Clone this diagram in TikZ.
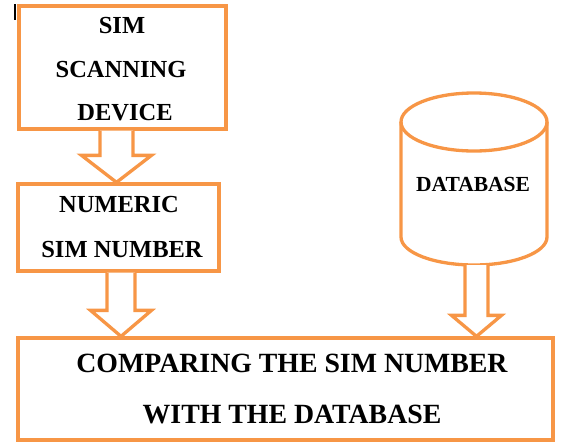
\documentclass[tikz,border=0pt]{standalone}
\usepackage{fontspec}
\setmainfont{Liberation Serif}
\definecolor{boxorange}{HTML}{F79646}
\newcommand\fatarrow[6]{%
  \draw[arrowline]
    (#1-#4,0 |- #2.south) -- ([yshift=#6pt]#1-#4,0 |- #3.north)
    -- ([yshift=#6pt]#1-#5,0 |- #3.north) -- (#1,0 |- #3.north)
    -- ([yshift=#6pt]#1+#5,0 |- #3.north) -- ([yshift=#6pt]#1+#4,0 |- #3.north)
    -- (#1+#4,0 |- #2.south);}
\tikzset{
  boxline/.style={draw=boxorange, line width=3.3pt},
  box/.style={boxline, rectangle, inner sep=0pt},
  arrowline/.style={boxline, line join=miter, fill=white},
  lbl/.style={anchor=base, inner sep=0pt, font=\fontsize{24.5}{24.5}\selectfont\bfseries},
  biglbl/.style={anchor=base, inner sep=0pt, font=\fontsize{27.8}{27.8}\selectfont\bfseries},
  dblbl/.style={anchor=base, inner sep=0pt, font=\fontsize{21.5}{21.5}\selectfont\bfseries},
}
\begin{document}
\begin{tikzpicture}[x=1pt,y=-1pt]
\useasboundingbox (0,0) rectangle (567,442);
% boxes
\node[box, minimum width=207pt, minimum height=123pt] (scan) at (122.5,67.5) {};
\node[box, minimum width=201pt, minimum height=87pt] (num) at (118.5,227.5) {};
\node[box, minimum width=535pt, minimum height=102pt] (cmp) at (285.5,389) {};
% database cylinder
\node[inner sep=0pt, minimum width=146pt, minimum height=172pt] (db) at (474,179) {};
\draw[boxline] (401,122) -- (401,237) arc[start angle=180, end angle=360, x radius=73pt, y radius=28pt] -- (547,122);
\draw[boxline] (474,122) ellipse [x radius=73pt, y radius=29pt];
% cursor mark
\draw[line width=1.4pt] (15,4) -- (15,20);
% labels
\node[lbl] (t1) at (122,33) {SIM};
\node[lbl] (t2) at (121,77) {SCANNING};
\node[lbl] (t3) at (125,120) {DEVICE};
\node[lbl] (t4) at (119,212) {NUMERIC};
\node[lbl] (t5) at (122,257) {SIM NUMBER};
\node[dblbl] (t6) at (473,191) {DATABASE};
\node[biglbl] (t7) at (292,372) {COMPARING THE SIM NUMBER};
\node[biglbl] (t8) at (292,423) {WITH THE DATABASE};
% block arrows
\fatarrow{116.5}{scan}{num}{16.5}{35}{27}
\fatarrow{121}{num}{cmp}{14}{30.5}{26}
\fatarrow{476.5}{db}{cmp}{11.5}{25}{21}
\end{tikzpicture}
\end{document}
